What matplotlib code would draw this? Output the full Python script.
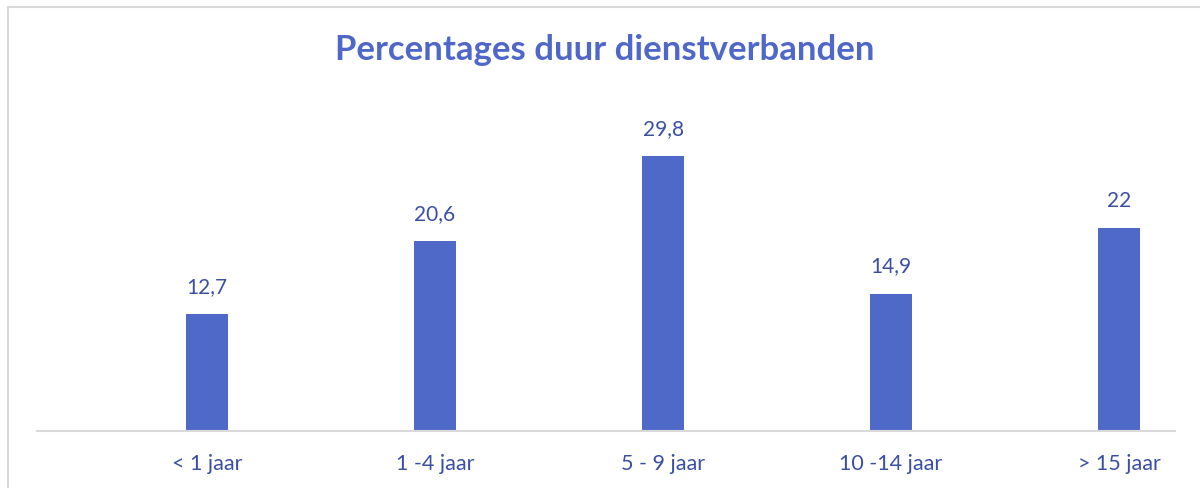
import matplotlib
matplotlib.use("Agg")
import matplotlib.pyplot as plt
from matplotlib.lines import Line2D

categories = ["< 1 jaar", "1 -4 jaar", "5 - 9 jaar", "10 -14 jaar", "> 15 jaar"]
values = [12.7, 20.6, 29.8, 14.9, 22]
labels = ["12,7", "20,6", "29,8", "14,9", "22"]

plt.rcParams['font.family'] = ['Lato', 'DejaVu Sans']

W, H = 1200, 489
fig = plt.figure(figsize=(W / 100, H / 100), dpi=100)

bar_color = "#4F69C8"
text_color = "#3A4FA3"
title_color = "#4F67C9"

# axes placement in pixels
left_px, right_px = 37, 1175
base_px = 432
ymax = 33
px_per_unit = 9.22
top_px = base_px - ymax * px_per_unit
ax = fig.add_axes([left_px / W, (H - base_px) / H, (right_px - left_px) / W, (base_px - top_px) / H])

x = list(range(len(categories)))
ax.bar(x, values, width=0.18, color=bar_color, zorder=2)
spacing = 228
ax.set_xlim((left_px - 207) / spacing, (right_px - 207) / spacing)
ax.set_ylim(0, ymax)

for xi, v, lab in zip(x, values, labels):
    ax.annotate(lab, (xi, v), xytext=(0, 13), textcoords="offset points",
                ha="center", va="bottom", fontsize=15, color=text_color)

for s in ["top", "right", "left"]:
    ax.spines[s].set_visible(False)
ax.spines["bottom"].set_color("#D9D9D9")
ax.spines["bottom"].set_linewidth(1.5)
ax.set_yticks([])
ax.set_xticks(x)
ax.set_xticklabels(categories, fontsize=15.5, color=text_color)
ax.tick_params(axis="x", length=0, pad=16)

fig.text(605 / W, 1 - 50 / H, "Percentages duur dienstverbanden", ha="center", va="center",
         fontsize=25, fontweight="bold", color=title_color)

# chart border (left and top)
fig.add_artist(Line2D([7.5 / W, 7.5 / W], [0, 1 - 7.5 / H], transform=fig.transFigure,
                      color="#D9D9D9", linewidth=1.5))
fig.add_artist(Line2D([7.5 / W, 1], [1 - 7.5 / H, 1 - 7.5 / H], transform=fig.transFigure,
                      color="#D9D9D9", linewidth=1.5))

fig.savefig("out.png", dpi=100, facecolor="white")
